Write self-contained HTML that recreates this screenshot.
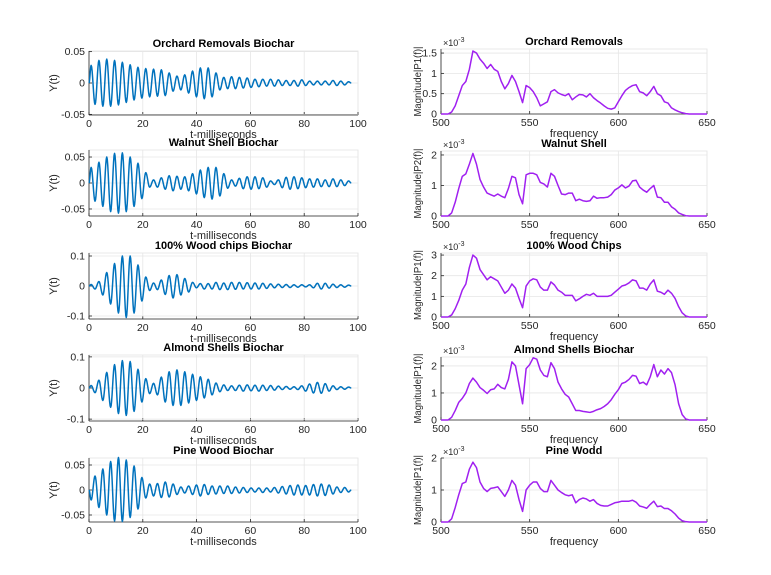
<!DOCTYPE html>
<html><head><meta charset="utf-8"><style>
body{margin:0;background:#fff}
svg{display:block;font-family:"Liberation Sans",sans-serif}
</style></head><body>
<svg id="fig" width="771" height="575" viewBox="0 0 771 575" xmlns="http://www.w3.org/2000/svg"></svg>
<script>
// ---- time-domain data: successive extremum amplitudes (half-cycle spacing) ----
const halfPeriod = 1.45, tStart = 0.8, tEnd = 97.5;
const envOrchard = [.028,.034,.036,.037,.038,.037,.036,.035,.033,.031,.029,.027,.025,.024,.023,.022,.022,.021,.021,.02,.016,.013,.011,.011,.013,.016,.019,.022,.024,.025,.024,.022,.016,.011,.009,.009,.01,.009,.009,.008,.008,.007,.006,.006,.006,.005,.006,.005,.005,.004,.004,.004,.004,.005,.005,.004,.003,.003,.003,.003,.003,.003,.004,.004,.003,.003,.002];
const envWalnut = [.03,.035,.04,.045,.05,.055,.057,.058,.058,.055,.05,.045,.038,.03,.02,.008,.006,.008,.01,.012,.014,.015,.013,.012,.012,.015,.018,.021,.025,.028,.03,.031,.03,.025,.018,.01,.006,.006,.009,.011,.012,.012,.012,.011,.01,.008,.004,.003,.006,.009,.011,.012,.012,.011,.01,.009,.008,.008,.008,.007,.006,.007,.008,.007,.006,.005,.004];
const envWood = [.005,.01,.015,.03,.045,.06,.075,.09,.1,.105,.1,.09,.07,.05,.03,.015,.01,.012,.02,.028,.035,.04,.038,.03,.025,.02,.012,.006,.008,.01,.008,.01,.012,.012,.01,.012,.012,.011,.012,.01,.011,.01,.01,.01,.009,.008,.007,.006,.006,.005,.005,.005,.004,.004,.004,.003,.004,.006,.009,.01,.009,.007,.006,.005,.004,.004,.003];
const envAlmond = [.008,.015,.025,.04,.05,.062,.075,.082,.088,.088,.085,.075,.06,.045,.03,.018,.015,.022,.035,.045,.052,.056,.058,.056,.052,.048,.044,.04,.036,.032,.028,.022,.016,.012,.01,.008,.007,.008,.009,.01,.01,.009,.009,.01,.009,.008,.008,.007,.006,.005,.005,.004,.004,.005,.007,.01,.013,.016,.018,.017,.014,.01,.007,.005,.004,.004,.003];
const envPine = [.02,.028,.035,.042,.05,.057,.062,.065,.063,.06,.055,.048,.038,.025,.016,.012,.012,.013,.015,.016,.014,.012,.009,.006,.006,.008,.009,.01,.012,.011,.009,.008,.008,.008,.007,.008,.007,.006,.006,.005,.005,.004,.004,.004,.005,.004,.004,.005,.006,.007,.008,.009,.01,.01,.01,.009,.01,.011,.012,.012,.011,.01,.008,.006,.005,.005,.004];
const firstSign = [1,1,1,1,-1];
const timeTitles = ["Orchard Removals Biochar","Walnut Shell Biochar","100% Wood chips Biochar","Almond Shells Biochar","Pine Wood Biochar"];
const timeYTicks = [[-0.05,0,0.05],[-0.05,0,0.05],[-0.1,0,0.1],[-0.1,0,0.1],[-0.05,0,0.05]];
const timeYLabels = [["-0.05","0","0.05"],["-0.05","0","0.05"],["-0.1","0","0.1"],["-0.1","0","0.1"],["-0.05","0","0.05"]];
const timeYLim = [0.051,0.0635,0.11,0.106,0.064];
const timeXTicks = [0,20,40,60,80,100];

// ---- spectra: magnitude (x1e-3) at 500..650 Hz, 2 Hz step ----
const freqStart = 500, freqStep = 2;
const specOrchard = [0,0,0,.05,.2,.45,.7,.8,1.1,1.55,1.5,1.35,1.25,1.12,1.22,1.1,1.05,.8,.62,.75,.95,.8,.55,.28,.7,.65,.55,.4,.2,.25,.3,.55,.6,.52,.48,.45,.5,.35,.42,.48,.47,.42,.5,.4,.33,.27,.2,.14,.12,.15,.3,.45,.58,.65,.7,.72,.55,.52,.45,.55,.68,.5,.45,.3,.27,.15,.1,.06,.03,.01,0,0,0,0,0,0];
const specWalnut = [0,0,0,.1,.45,.9,1.3,1.38,1.7,2.05,1.7,1.2,.95,.75,.7,.65,.72,.65,.6,.9,1.3,1.25,.7,.4,1.35,1.4,1.4,1.35,1.1,1.05,.95,1.4,1.3,1.0,.72,.7,.75,.75,.5,.55,.5,.48,.5,.65,.58,.6,.6,.62,.7,.85,.92,1.02,.92,.98,1.15,1.17,.95,.85,.78,.9,1.0,.62,.6,.45,.45,.3,.22,.1,.05,.01,0,0,0,0,0,0];
const specWood = [0,0,0,.1,.4,.8,1.3,1.6,2.4,3.0,2.85,2.3,2.05,1.8,1.95,1.85,1.75,1.45,1.15,1.3,1.6,1.4,.9,.45,1.5,1.75,1.85,1.8,1.45,1.3,1.3,1.7,1.55,1.3,1.2,1.05,1.05,1.05,.78,.88,1.0,1.1,1.05,1.15,1.0,1.0,1.0,1.0,1.05,1.2,1.35,1.5,1.55,1.65,1.8,1.75,1.4,1.4,1.3,1.6,1.8,1.25,1.2,1.1,1.3,1.15,.9,.5,.2,.05,0,0,0,0,0,0];
const specAlmond = [0,0,0,.1,.35,.65,.8,1.0,1.35,1.55,1.4,1.2,1.1,.98,1.12,1.15,1.32,1.2,1.15,1.5,2.15,2.0,1.3,.6,1.9,2.05,2.3,2.25,1.85,1.65,1.6,2.12,1.9,1.4,1.15,.95,.85,.6,.35,.35,.32,.3,.28,.32,.38,.42,.5,.6,.75,.95,1.12,1.35,1.4,1.5,1.65,1.62,1.35,1.4,1.3,1.6,2.05,1.6,1.85,1.7,1.9,1.75,1.3,.6,.2,.04,0,0,0,0,0,0];
const specPine = [0,0,0,.1,.45,.85,1.2,1.25,1.65,1.87,1.7,1.25,1.05,.95,1.05,1.07,1.1,.95,.8,1.0,1.3,1.15,.7,.33,1.0,1.15,1.25,1.25,1.05,.95,.95,1.3,1.15,1.0,.92,.85,.82,.85,.6,.7,.75,.72,.65,.7,.58,.52,.5,.5,.55,.6,.62,.65,.65,.65,.68,.62,.5,.47,.43,.55,.65,.48,.5,.42,.42,.35,.25,.12,.04,.01,0,0,0,0,0,0];
const specTitles = ["Orchard Removals","Walnut Shell","100% Wood Chips","Almond Shells Biochar","Pine Wodd"];
const specYLabelsText = ["Magnitude|P1(f)|","Magnitude|P2(f)|","Magnitude|P1(f)|","Magnitude|P1(f)|","Magnitude|P1(f)|"];
const specYTicks = [[0,0.5,1,1.5],[0,1,2],[0,1,2,3],[0,1,2],[0,1,2]];
const specYTickLabels = [["0","0.5","1","1.5"],["0","1","2"],["0","1","2","3"],["0","1","2"],["0","1","2"]];
const specYMax = [1.6,2.13,3.1,2.33,2.0];
const specXTicks = [500,550,600,650];

const envs = [envOrchard,envWalnut,envWood,envAlmond,envPine];
const specs = [specOrchard,specWalnut,specWood,specAlmond,specPine];
const leftBox = [[51,115],[150,216],[253,319],[355,421],[458,522]];
const rightBox = [[49,114],[151,216],[253,317],[357,420],[458,522]];
const LX0=89, LX1=358, RX0=441, RX1=707;

const svg=document.getElementById('fig');
const NS='http://www.w3.org/2000/svg';
function mk(tag,attrs,parent){const e=document.createElementNS(NS,tag);for(const k in attrs)e.setAttribute(k,attrs[k]);(parent||svg).appendChild(e);return e;}
function txt(s,attrs,parent){const e=mk('text',attrs,parent);e.textContent=s;return e;}

function axes(i,side,x0,x1,y0,y1,xmin,xmax,ymin,ymax,xt,xtl,yt,ytl,title,xlab,ylab){
  const g=mk('g',{});
  
  
  const sx=v=>x0+(v-xmin)/(xmax-xmin)*(x1-x0);
  const sy=v=>y1-(v-ymin)/(ymax-ymin)*(y1-y0);
  mk('rect',{x:x0,y:y0,width:x1-x0,height:y1-y0,fill:'#fff',stroke:'#e3e3e3','stroke-width':0.8},g);
  xt.forEach((v,j)=>{const X=sx(v);
    const l=mk('line',{x1:X,x2:X,y1:y0,y2:y1,stroke:'#e6e6e6','stroke-width':0.8},g);
    
    
    mk('line',{x1:X,x2:X,y1:y1,y2:y1-3,stroke:'#262626','stroke-width':0.8},g);
    const t=txt(xtl[j],{x:X,y:y1+12,'font-size':'10.5','text-anchor':'middle',fill:'#262626'},g);
    
    
  });
  yt.forEach((v,j)=>{const Y=sy(v);
    const l=mk('line',{x1:x0,x2:x1,y1:Y,y2:Y,stroke:'#e6e6e6','stroke-width':0.8},g);
    
    
    mk('line',{x1:x0,x2:x0+3,y1:Y,y2:Y,stroke:'#262626','stroke-width':0.8},g);
    const t=txt(ytl[j],{x:x0-4,y:Y+3.5,'font-size':'10.5','text-anchor':'end',fill:'#262626'},g);
    
    
  });
  mk('line',{x1:x0,x2:x1,y1:y1,y2:y1,stroke:'#262626','stroke-width':0.8},g);
  mk('line',{x1:x0,x2:x0,y1:y0,y2:y1,stroke:'#262626','stroke-width':0.8},g);
  const tt=txt(title,{x:(x0+x1)/2,y:y0-4,'font-size':'11','font-weight':'bold','text-anchor':'middle',fill:'#000'},g);
  
  
  const xl=txt(xlab,{x:(x0+x1)/2,y:y1+23,'font-size':'11','text-anchor':'middle',fill:'#262626'},g);
  
  
  const yx=x0-(side==='left'?32:20), yy=(y0+y1)/2;
  const attrs={x:yx,y:yy,'font-size':side==='left'?'11':'10','text-anchor':'middle',fill:'#262626',transform:`rotate(-90 ${yx} ${yy})`};
  if(side!=='left'){attrs.textLength='70';attrs.lengthAdjust='spacingAndGlyphs';}
  const yl=txt(ylab,attrs,g);
  
  
  return {g,sx,sy};
}

for(let i=0;i<5;i++){
  const [y0,y1]=leftBox[i], L=timeYLim[i];
  const a=axes(i,'left',LX0,LX1,y0,y1,0,100,-L,L,timeXTicks,timeXTicks.map(String),timeYTicks[i],timeYLabels[i],timeTitles[i],'t-milliseconds','Y(t)');
  const env=envs[i];
  const pts=[[0,0]];
  env.forEach((v,k)=>{pts.push([tStart+k*halfPeriod, v*firstSign[i]*(k%2?-1:1)]);});
  pts.push([tEnd,0]);
  let d='';
  for(let p=0;p<pts.length-1;p++){
    const [ta,va]=pts[p],[tb,vb]=pts[p+1];
    for(let s=0;s<=8;s++){const u=s/8,w=(1-Math.cos(Math.PI*u))/2;
      const t=ta+(tb-ta)*u,v=va+(vb-va)*w;
      d+=(d?'L':'M')+a.sx(t).toFixed(2)+' '+a.sy(v).toFixed(2);}
  }
  const path=mk('path',{d,fill:'none',stroke:'#0072BD','stroke-width':1.5,'stroke-linejoin':'round'},a.g);
  
  
}

for(let i=0;i<5;i++){
  const [y0,y1]=rightBox[i];
  const a=axes(i,'right',RX0,RX1,y0,y1,500,650,0,specYMax[i],specXTicks,specXTicks.map(String),specYTicks[i],specYTickLabels[i],specTitles[i],'frequency',specYLabelsText[i]);
  const ex=txt('\u00d710',{x:RX0+2,y:y0-3,'font-size':'9',fill:'#262626'},a.g);
  
  
  const sup=mk('tspan',{dy:'-4','font-size':'7'},ex);sup.textContent='-3';
  let d='';
  specs[i].forEach((v,k)=>{d+=(k?'L':'M')+a.sx(freqStart+k*freqStep).toFixed(2)+' '+a.sy(v).toFixed(2);});
  const path=mk('path',{d,fill:'none',stroke:'#A020F0','stroke-width':1.5,'stroke-linejoin':'round'},a.g);
  
  
}
</script>
</body></html>
